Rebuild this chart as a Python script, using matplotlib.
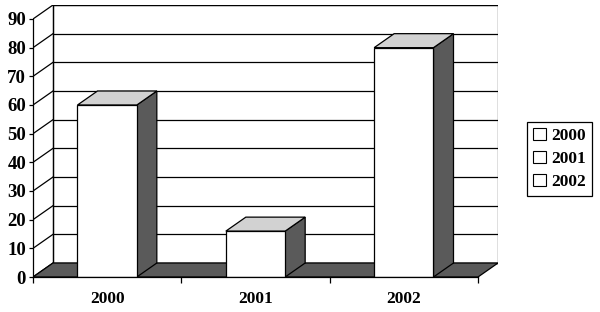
import matplotlib
matplotlib.use("Agg")
import matplotlib.pyplot as plt
from matplotlib.patches import Polygon, Patch

categories = ["2000", "2001", "2002"]
values = [60, 16, 80]
yticks = [0, 10, 20, 30, 40, 50, 60, 70, 80, 90]
legend_labels = ["2000", "2001", "2002"]

plt.rcParams['font.family'] = ['Liberation Serif', 'DejaVu Serif']

fig = plt.figure(figsize=(6.0, 3.12), dpi=100)
ax = fig.add_axes([33/600, (312-277)/312, 465/600, 272/312])
DX = 20/148.33
DY = 14/2.867
YMAX = 90
ax.set_xlim(0, 3 + DX)
ax.set_ylim(0, YMAX + DY)

dark = '#5a5a5a'
top_c = '#d2d2d2'
lw = 0.9

# back wall
ax.add_patch(Polygon([(DX, DY), (3+DX, DY), (3+DX, YMAX+DY), (DX, YMAX+DY)],
                     closed=True, facecolor='white', edgecolor='black', lw=lw, zorder=1))
for t in yticks:
    ax.plot([DX, 3+DX], [t+DY, t+DY], color='black', lw=lw, zorder=2)
    ax.plot([0, DX], [t, t+DY], color='black', lw=lw, zorder=2)
ax.plot([DX, DX], [DY, YMAX+DY], color='black', lw=lw, zorder=2)
# floor
ax.add_patch(Polygon([(0, 0), (3, 0), (3+DX, DY), (DX, DY)], closed=True,
                     facecolor=dark, edgecolor='black', lw=lw, zorder=3))

# bars
w = 0.4
for i, v in enumerate(values):
    x0 = i + 0.5 - w/2
    x1 = i + 0.5 + w/2
    side = Polygon([(x1, 0), (x1+DX, DY), (x1+DX, v+DY), (x1, v)], closed=True,
                   facecolor=dark, edgecolor='black', lw=lw, zorder=5)
    top = Polygon([(x0, v), (x1, v), (x1+DX, v+DY), (x0+DX, v+DY)], closed=True,
                  facecolor=top_c, edgecolor='black', lw=lw, zorder=5)
    front = Polygon([(x0, 0), (x1, 0), (x1, v), (x0, v)], closed=True,
                    facecolor='white', edgecolor='black', lw=lw, zorder=6)
    for p in (side, top, front):
        ax.add_patch(p)

for s in ('top', 'right'):
    ax.spines[s].set_visible(False)
ax.spines['left'].set_bounds(0, YMAX)
ax.spines['bottom'].set_bounds(0, 3)
for s in ('left', 'bottom'):
    ax.spines[s].set_linewidth(lw)
    ax.spines[s].set_zorder(7)

ax.set_yticks(yticks)
ax.set_yticklabels([str(t) for t in yticks], fontsize=13.5, fontweight='bold')
ax.tick_params(axis='y', direction='out', length=3, width=lw, pad=2)

ax.set_xticks([0, 1, 2, 3])
ax.set_xticklabels([])
ax.tick_params(axis='x', which='major', direction='out', length=4, width=lw)
ax.set_xticks([0.5, 1.5, 2.5], minor=True)
ax.set_xticklabels(categories, minor=True, fontsize=12.5, fontweight='bold')
ax.tick_params(axis='x', which='minor', length=0, pad=10)

handles = [Patch(facecolor='white', edgecolor='black', lw=0.8) for _ in legend_labels]
leg = fig.legend(handles, legend_labels, loc='center left', bbox_to_anchor=(527/600, (312-159)/312),
                 frameon=True, fancybox=False, edgecolor='black', framealpha=1,
                 prop={'size': 12.5, 'weight': 'bold'}, handlelength=0.75, handleheight=0.7,
                 handletextpad=0.3, borderpad=0.35, labelspacing=0.4, borderaxespad=0)
leg.get_frame().set_linewidth(0.9)

fig.savefig("out.png", dpi=100)
